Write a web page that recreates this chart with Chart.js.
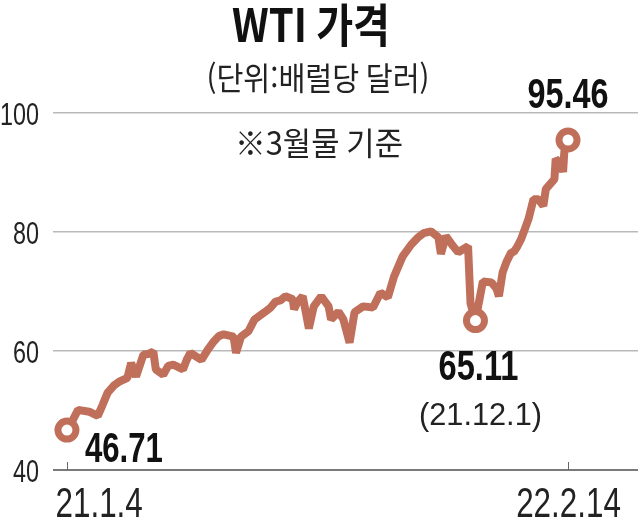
<!DOCTYPE html>
<html lang="ko">
<head>
<meta charset="utf-8">
<script src="https://cdn.jsdelivr.net/npm/chart.js@4.4.1/dist/chart.umd.min.js"></script>
<style>
    html, body { margin: 0; padding: 0; background: #fff; }
    #wrap { position: relative; width: 638px; height: 517px; }
</style>
</head>
<body>
<div id="wrap"><canvas id="chart"></canvas></div>
<script>
// WTI 3월물, 21.1.4 기준 경과일 / 배럴당 달러
const days = [0, 5, 9, 18, 25, 29, 33, 38, 42, 49, 52, 56, 62, 66, 70, 72, 78, 82, 86, 89,
    94, 97, 100, 109, 114, 119, 123, 127, 135, 137, 141, 147, 152, 160, 165, 169, 173, 177, 183, 184,
    187, 191, 194, 196, 200, 206, 212, 214, 220, 224, 229, 233, 240, 248, 254, 260, 265, 272, 279, 284,
    289, 295, 301, 303, 307, 313, 317, 321, 325, 327, 331, 337, 344, 348, 350, 353, 356, 360, 362, 365,
    368, 371, 374, 378, 382, 386, 388, 395, 396, 400, 402, 403, 406];
const prices = [46.71, 48.5, 50.1, 49.8, 49.1, 51, 53, 54.2, 54.8, 55.5, 58, 55.7, 59.4, 59.5, 59.9, 56.9, 56, 57.5, 57.7, 57.4,
    56.9, 58.5, 59.7, 58.5, 60.2, 61.6, 62.5, 62.8, 62.4, 59.7, 62.4, 63.3, 65.3, 66.5, 67.3, 68.3, 68.5, 69.2, 68.7, 67,
    68.3, 69.2, 66, 63.8, 67.5, 69.2, 67.5, 65.3, 66.6, 65.3, 61.4, 66.5, 67.5, 67.3, 69.8, 69, 72.5, 75.9, 77.9, 79,
    79.8, 80.1, 79.1, 76.3, 79.3, 77.6, 76.6, 77.1, 77.6, 68, 65.11, 71.7, 71.5, 70.5, 69.2, 73.2, 74.9, 76.6, 76.6, 77.6,
    78.8, 80.5, 82.2, 85.5, 85.5, 84.4, 87.2, 88.9, 92.3, 91.5, 90.1, 93.5, 95.46];

const yTicks = [40, 60, 80, 100];
const xTickDays = [0, 406];
const xTickLabels = ['21.1.4', '22.2.14'];
const lowDay = 331; // 21.12.1

const title = 'WTI 가격';
const unitText = '(단위:배럴당 달러)';
const noteText = '※3월물 기준';
const lowDateText = '(21.12.1)';

const LINE = '#c0705a';
const X_MIN = -11.3, X_MAX = 462.7;
const marked = [0, days.indexOf(lowDay), prices.length - 1];

// 글자를 가로폭에 맞춰 눌러 그림 (원본이 장체 폰트)
function drawFit(ctx, text, x, y, font, width, align = 'center', baseline = 'alphabetic', color = '#111') {
    ctx.save();
    ctx.font = font;
    ctx.fillStyle = color;
    ctx.textBaseline = baseline;
    ctx.textAlign = 'left';
    const w = ctx.measureText(text).width;
    const sx = width / w;
    let left = x;
    if (align === 'center') left = x - width / 2;
    if (align === 'right') left = x - width;
    ctx.translate(left, y);
    ctx.scale(sx, 1);
    ctx.fillText(text, 0, 0);
    ctx.restore();
}

function drawScaled(ctx, text, x, y, font, sx, align, color = '#222') {
    ctx.save();
    ctx.font = font;
    ctx.fillStyle = color;
    ctx.textBaseline = 'alphabetic';
    ctx.textAlign = align;
    ctx.translate(x, y);
    ctx.scale(sx, 1);
    ctx.fillText(text, 0, 0);
    ctx.restore();
}

const labels = {
    id: 'labels',
    afterDraw(chart) {
        const {ctx, scales: {x, y}} = chart;
        const kr = '"Noto Sans CJK KR", sans-serif';
        const num = '"Liberation Sans", Arial, sans-serif';

        drawFit(ctx, title, 311, 25, `bold 46px ${kr}`, 158, 'center', 'middle', '#111');
        drawFit(ctx, unitText, 318, 78, `32px ${kr}`, 223, 'center', 'middle', '#222');
        drawFit(ctx, noteText, 319, 143, `32px ${kr}`, 168, 'center', 'middle', '#222');

        yTicks.forEach(v => {
            drawScaled(ctx, String(v), 39, y.getPixelForValue(v) + 12, `32px ${num}`, 0.73, 'right');
        });

        ctx.save();
        ctx.strokeStyle = '#666';
        ctx.lineWidth = 1;
        xTickDays.forEach((d, i) => {
            const px = Math.round(x.getPixelForValue(d)) + 0.5;
            ctx.beginPath();
            ctx.moveTo(px, y.bottom - 8);
            ctx.lineTo(px, y.bottom);
            ctx.stroke();
            const align = i === 0 ? 'left' : 'center';
            const tx = i === 0 ? px - 12 : px;
            drawScaled(ctx, xTickLabels[i], tx, 517, `43px ${num}`, 0.73, align);
        });
        ctx.restore();

        const [a, m, b] = marked;
        const pa = {x: x.getPixelForValue(days[a]), y: y.getPixelForValue(prices[a])};
        const pm = {x: x.getPixelForValue(days[m]), y: y.getPixelForValue(prices[m])};
        const pb = {x: x.getPixelForValue(days[b]), y: y.getPixelForValue(prices[b])};
        drawFit(ctx, prices[a].toFixed(2), pa.x + 18, pa.y + 32, `bold 42px ${num}`, 78, 'left');
        drawFit(ctx, prices[b].toFixed(2), pb.x, pb.y - 32, `bold 42px ${num}`, 81, 'center');
        drawFit(ctx, prices[m].toFixed(2), pm.x + 3, pm.y + 59, `bold 42px ${num}`, 80, 'center');
        drawFit(ctx, lowDateText, pm.x + 5, pm.y + 104, `32px ${num}`, 123, 'center', 'alphabetic', '#222');
    }
};

new Chart(document.getElementById('chart'), {
    type: 'line',
    data: {
        datasets: [{
            data: days.map((d, i) => ({x: d, y: prices[i]})),
            borderColor: LINE,
            borderWidth: 8,
            borderJoinStyle: 'bevel',
            tension: 0,
            pointRadius: ctx => marked.includes(ctx.dataIndex) ? 9 : 0,
            pointHoverRadius: 0,
            pointBackgroundColor: '#fff',
            pointBorderColor: LINE,
            pointBorderWidth: 7,
            clip: false
        }]
    },
    options: {
        responsive: true,
        maintainAspectRatio: false,
        animation: false,
        events: [],
        layout: {autoPadding: false, padding: {left: 53, right: 0, top: 113, bottom: 47}},
        scales: {
            x: {
                type: 'linear', min: X_MIN, max: X_MAX, bounds: 'data', display: false,
                afterBuildTicks: s => {
                    s.ticks = xTickDays.map(v => ({value: v}));
                    s.min = X_MIN;
                    s.max = X_MAX;
                }
            },
            y: {
                min: 40, max: 100,
                afterBuildTicks: s => { s.ticks = yTicks.map(v => ({value: v})); },
                ticks: {display: false},
                border: {display: false},
                grid: {
                    drawTicks: false,
                    color: c => c.tick.value === 40 ? '#7a7a7a' : '#b9b9b9',
                    lineWidth: c => c.tick.value === 40 ? 2 : 1.5
                }
            }
        },
        plugins: {legend: {display: false}, tooltip: {enabled: false}}
    },
    plugins: [labels]
});
</script>
</body>
</html>
